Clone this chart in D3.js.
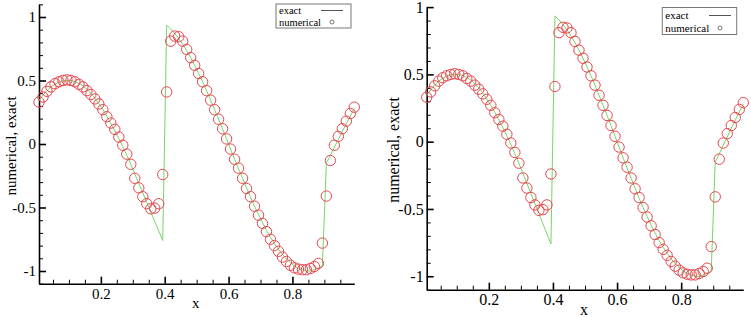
<!DOCTYPE html>
<html>
<head>
<meta charset="utf-8">
<script src="https://cdn.jsdelivr.net/npm/d3@7"></script>
<style>
  body { margin: 0; background: #fff; }
  svg { display: block; font-family: "Liberation Serif", "Times New Roman", serif; }
</style>
</head>
<body>
<script>
// cell centres
var xCells = [0.00625, 0.01875, 0.03125, 0.04375, 0.05625, 0.06875, 0.08125, 0.09375, 0.10625, 0.11875,
              0.13125, 0.14375, 0.15625, 0.16875, 0.18125, 0.19375, 0.20625, 0.21875, 0.23125, 0.24375,
              0.25625, 0.26875, 0.28125, 0.29375, 0.30625, 0.31875, 0.33125, 0.34375, 0.35625, 0.36875,
              0.38125, 0.39375, 0.40625, 0.41875, 0.43125, 0.44375, 0.45625, 0.46875, 0.48125, 0.49375,
              0.50625, 0.51875, 0.53125, 0.54375, 0.55625, 0.56875, 0.58125, 0.59375, 0.60625, 0.61875,
              0.63125, 0.64375, 0.65625, 0.66875, 0.68125, 0.69375, 0.70625, 0.71875, 0.73125, 0.74375,
              0.75625, 0.76875, 0.78125, 0.79375, 0.80625, 0.81875, 0.83125, 0.84375, 0.85625, 0.86875,
              0.88125, 0.89375, 0.90625, 0.91875, 0.93125, 0.94375, 0.95625, 0.96875, 0.98125, 0.99375];

var exactValues = [0.345, 0.385, 0.42, 0.45, 0.47, 0.487, 0.496, 0.50, 0.499, 0.492,
                   0.478, 0.458, 0.432, 0.40, 0.362, 0.318, 0.27, 0.218, 0.162, 0.103,
                   0.042, -0.02, -0.09, -0.16, -0.235, -0.31, -0.385, -0.46, -0.535, -0.61,
                   -0.685, -0.76, 0.935, 0.905, 0.87, 0.83, 0.785, 0.735, 0.68, 0.62,
                   0.555, 0.49, 0.42, 0.345, 0.27, 0.195, 0.12, 0.04, -0.04, -0.12,
                   -0.195, -0.27, -0.345, -0.42, -0.49, -0.555, -0.62, -0.68, -0.735, -0.785,
                   -0.83, -0.87, -0.905, -0.935, -0.96, -0.98, -0.99, -1.0, -1.0, -0.99,
                   -0.98, -0.96, -0.15, -0.09, -0.025, 0.035, 0.10, 0.16, 0.22, 0.28];

var numericalValues = [0.33, 0.37, 0.415, 0.45, 0.475, 0.49, 0.50, 0.505, 0.50, 0.49,
                       0.47, 0.45, 0.42, 0.39, 0.355, 0.315, 0.27, 0.215, 0.165, 0.115,
                       0.055, -0.01, -0.08, -0.16, -0.27, -0.345, -0.415, -0.47, -0.51, -0.505,
                       -0.47, -0.24, 0.41, 0.81, 0.85, 0.845, 0.81, 0.745, 0.68, 0.62,
                       0.555, 0.49, 0.42, 0.345, 0.27, 0.195, 0.12, 0.04, -0.04, -0.12,
                       -0.19, -0.27, -0.35, -0.415, -0.49, -0.56, -0.625, -0.69, -0.75, -0.80,
                       -0.845, -0.89, -0.925, -0.955, -0.975, -0.985, -0.99, -0.99, -0.98, -0.965,
                       -0.94, -0.78, -0.41, -0.13, -0.01, 0.06, 0.12, 0.18, 0.24, 0.29];

var xMajorTicks = [0.2, 0.4, 0.6, 0.8];
var xMinorTicks = [0.05, 0.1, 0.15, 0.25, 0.3, 0.35, 0.45, 0.5, 0.55, 0.65, 0.7, 0.75, 0.85, 0.9, 0.95];
var yMajorTicks = [-1, -0.5, 0, 0.5, 1];
var yMinorTicks = [-1.1, -0.9, -0.8, -0.7, -0.6, -0.4, -0.3, -0.2, -0.1, 0.1, 0.2, 0.3, 0.4, 0.6, 0.7, 0.8, 0.9, 1.1];
var legendLabels = ["exact", "numerical"];

var w = 751, h = 317;
var svg = d3.select("body").append("svg").attr("width", w).attr("height", h);

var points = xCells.map(function(x, i) {
    return {x: x, exact: exactValues[i], num: numericalValues[i]};
});

function drawPanel(p)
{
    var g = svg.append("g");

    var x = d3.scaleLinear().domain([0.00625, 0.99375]).range([p.left, p.right]);
    var y = d3.scaleLinear().domain(p.yDomain).range([p.bottom, p.top]);
    var yMinor = yMinorTicks.filter(function(d) { return d >= p.yDomain[0] - 1e-9 && d <= p.yDomain[1] + 1e-9; });

    // minor ticks
    g.append("g")
     .attr("transform", "translate(0," + p.bottom + ")")
     .call(d3.axisBottom(x).tickValues(xMinorTicks).tickSize(-4).tickFormat(""))
     .call(function(s) { s.select(".domain").remove(); s.selectAll("line").attr("stroke-width", 1); });
    g.append("g")
     .attr("transform", "translate(" + p.left + ",0)")
     .call(d3.axisLeft(y).tickValues(yMinor).tickSize(-4).tickFormat(""))
     .call(function(s) { s.select(".domain").remove(); s.selectAll("line").attr("stroke-width", 1); });

    // major axes
    var xa = g.append("g")
     .attr("transform", "translate(0," + p.bottom + ")")
     .call(d3.axisBottom(x).tickValues(xMajorTicks).tickSize(-7).tickSizeOuter(0).tickPadding(p.xPad)
             .tickFormat(function(d) { return String(d); }));
    var ya = g.append("g")
     .attr("transform", "translate(" + p.left + ",0)")
     .call(d3.axisLeft(y).tickValues(yMajorTicks).tickSize(-7).tickSizeOuter(0).tickPadding(p.yPad)
             .tickFormat(function(d) { return String(d); }));

    [xa, ya].forEach(function(a) {
        a.select(".domain").attr("stroke", "#000").attr("stroke-width", 1.6);
        a.selectAll(".tick line").attr("stroke", "#000").attr("stroke-width", 1.6);
        a.selectAll("text").attr("font-family", "Liberation Serif").attr("font-size", p.fs).attr("fill", "#000");
    });

    // exact line
    var line = d3.line()
                 .x(function(d) { return x(d.x); })
                 .y(function(d) { return y(d.exact); });
    g.append("path")
     .datum(points)
     .attr("d", line)
     .attr("fill", "none")
     .attr("stroke", "#79d46a")
     .attr("stroke-width", 1);

    // numerical circles
    g.selectAll("circle.num")
     .data(points)
     .enter()
     .append("circle")
     .attr("class", "num")
     .attr("cx", function(d) { return x(d.x); })
     .attr("cy", function(d) { return y(d.num); })
     .attr("r", 5.2)
     .attr("fill", "none")
     .attr("stroke", "#e4484d")
     .attr("stroke-width", 1);

    // axis titles
    g.append("text")
     .attr("x", (p.left + p.right) / 2 - 1)
     .attr("y", p.xTitleY)
     .attr("text-anchor", "middle")
     .attr("font-size", p.fs)
     .text("x");
    g.append("text")
     .attr("transform", "translate(" + p.yTitleX + "," + p.yTitleMid + ") rotate(-90)")
     .attr("text-anchor", "middle")
     .attr("font-size", p.fs)
     .text("numerical, exact");

    // legend
    var L = p.legend;
    g.append("rect")
     .attr("x", L.x).attr("y", L.y).attr("width", L.w).attr("height", L.h)
     .attr("fill", "#fff").attr("stroke", "#777").attr("stroke-width", 1);
    g.selectAll("text.leg")
     .data(legendLabels)
     .enter()
     .append("text")
     .attr("class", "leg")
     .attr("x", L.x + 3)
     .attr("y", function(d, i) { return L.y + L.base + i * L.step; })
     .attr("font-size", L.fs)
     .text(function(d) { return d; });
    g.append("line")
     .attr("x1", L.lineX1).attr("x2", L.lineX2)
     .attr("y1", L.y + L.base - 3.5).attr("y2", L.y + L.base - 3.5)
     .attr("stroke", "#555").attr("stroke-width", 1);
    g.append("circle")
     .attr("cx", (L.lineX1 + L.lineX2) / 2)
     .attr("cy", L.y + L.base + L.step - 3.5)
     .attr("r", 2)
     .attr("fill", "none").attr("stroke", "#555").attr("stroke-width", 0.8);
}

drawPanel({
    left: 39, right: 354.3, top: 4.3, bottom: 283.7, yDomain: [-1.1, 1.1],
    fs: 15, xPad: 5, yPad: 3, xTitleY: 308, yTitleX: 16, yTitleMid: 146,
    legend: {x: 276, y: 4, w: 75, h: 24, base: 10, step: 11.5, fs: 10.5, lineX1: 321, lineX2: 343}
});

drawPanel({
    left: 426.7, right: 743.3, top: 7.1, bottom: 289.7, yDomain: [-1.1, 1.0],
    fs: 16, xPad: 4, yPad: 3, xTitleY: 315, yTitleX: 399, yTitleMid: 150,
    legend: {x: 662.3, y: 7.5, w: 74.4, h: 27, base: 11.5, step: 12.5, fs: 11, lineX1: 709, lineX2: 731}
});
</script>
</body>
</html>
